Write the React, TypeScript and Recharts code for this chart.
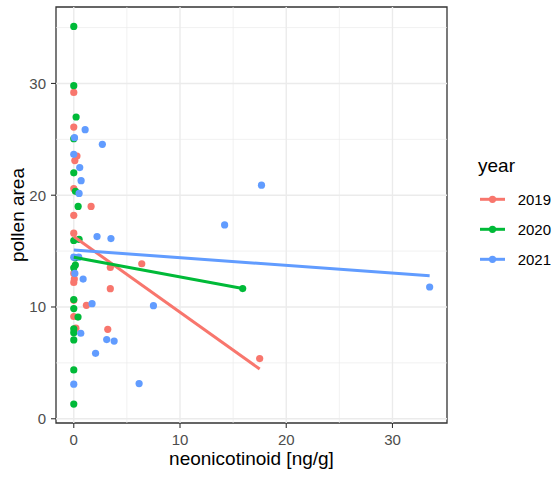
import React from 'react';
import { ScatterChart, Scatter, XAxis, YAxis, ReferenceLine, ReferenceArea } from 'recharts';

const years = ['2019', '2020', '2021'];

const points2019 = [
  { x: 0, y: 29.2 }, { x: 0, y: 26.1 }, { x: 0.3, y: 23.5 }, { x: 0.1, y: 23.1 },
  { x: 0, y: 20.6 }, { x: 1.63, y: 19.0 }, { x: 0, y: 18.2 }, { x: 0, y: 16.6 },
  { x: 3.44, y: 13.54 }, { x: 6.4, y: 13.87 }, { x: 0, y: 13.0 }, { x: 0.05, y: 12.5 },
  { x: 0, y: 12.2 }, { x: 3.44, y: 11.64 }, { x: 0, y: 10.6 }, { x: 1.19, y: 10.15 },
  { x: 0, y: 9.15 }, { x: 0.2, y: 8.1 }, { x: 3.2, y: 8.0 }, { x: 17.5, y: 5.38 },
];

const points2020 = [
  { x: 0, y: 35.1 }, { x: 0, y: 29.8 }, { x: 0.22, y: 27.0 }, { x: 0, y: 25.06 },
  { x: 0, y: 22.0 }, { x: 0.16, y: 20.35 }, { x: 0.41, y: 19.0 }, { x: 0, y: 15.95 },
  { x: 0.5, y: 16.05 }, { x: 0.15, y: 14.4 }, { x: 0.15, y: 13.75 }, { x: 0, y: 13.5 },
  { x: 0, y: 10.66 }, { x: 0, y: 9.86 }, { x: 0.4, y: 9.1 }, { x: 0, y: 8.05 },
  { x: 0, y: 7.7 }, { x: 0, y: 7.05 }, { x: 0, y: 4.37 }, { x: 0, y: 1.31 },
  { x: 15.9, y: 11.65 },
];

const points2021 = [
  { x: 1.07, y: 25.86 }, { x: 0.07, y: 25.15 }, { x: 2.69, y: 24.55 }, { x: 0, y: 23.66 },
  { x: 0.56, y: 22.47 }, { x: 0.69, y: 21.3 }, { x: 0.5, y: 20.16 }, { x: 17.67, y: 20.9 },
  { x: 14.2, y: 17.34 }, { x: 2.19, y: 16.3 }, { x: 3.5, y: 16.12 }, { x: 0, y: 14.46 },
  { x: 0.47, y: 14.46 }, { x: 0.1, y: 13.0 }, { x: 0.88, y: 12.5 }, { x: 1.72, y: 10.3 },
  { x: 7.5, y: 10.12 }, { x: 0.66, y: 7.65 }, { x: 3.1, y: 7.08 }, { x: 3.8, y: 6.95 },
  { x: 2.05, y: 5.85 }, { x: 6.15, y: 3.15 }, { x: 0, y: 3.09 }, { x: 33.5, y: 11.79 },
];

const fit2019 = [{ x: 0, y: 16.3 }, { x: 17.5, y: 4.45 }];
const fit2020 = [{ x: 0, y: 14.45 }, { x: 15.9, y: 11.65 }];
const fit2021 = [{ x: 0, y: 15.1 }, { x: 33.5, y: 12.8 }];

const xTicks = [0, 10, 20, 30];
const yTicks = [0, 10, 20, 30];
const xMinor = [5, 15, 25];
const yMinor = [5, 15, 25, 35];
const xDomain: [number, number] = [-1.673, 35.133];
const yDomain: [number, number] = [-0.38, 36.84];

const COLORS = ['#F8766D', '#00BA38', '#619CFF'];
const FONT = '"Liberation Sans", Arial, Helvetica, sans-serif';
const GRID = '#EBEBEB';

const pointSets = [points2019, points2020, points2021];
const fitSets = [fit2019, fit2020, fit2021];

const makeDot = (color: string) => (p: any) => (
  <circle cx={p.cx} cy={p.cy} r={3.6} fill={color} />
);
const noDot = () => <g />;

const YTitle = (props: any) => {
  const vb = props.viewBox || { x: 0, y: 7, width: 56, height: 416 };
  const cx = vb.x + 17.5;
  const cy = vb.y + vb.height / 2;
  return (
    <text x={cx} y={cy} transform={`rotate(-90 ${cx} ${cy})`} textAnchor="middle"
      dominantBaseline="central" fontSize={19} fill="#000" fontFamily={FONT}>
      pollen area
    </text>
  );
};

const XTitle = (props: any) => {
  const vb = props.viewBox || { x: 56, y: 423, width: 391, height: 54 };
  return (
    <text x={vb.x + vb.width / 2} y={vb.y + 41.5} textAnchor="middle" fontSize={19}
      fill="#000" fontFamily={FONT}>
      neonicotinoid [ng/g]
    </text>
  );
};

export default function App() {
  return (
    <div style={{ position: 'absolute', left: 0, top: 0, width: 556, height: 477, background: '#fff', fontFamily: FONT }}>
      <ScatterChart width={556} height={477} margin={{ top: 7, right: 109, bottom: 0, left: 0 }}>
        <XAxis type="number" dataKey="x" domain={xDomain} ticks={xTicks} allowDataOverflow
          axisLine={false} tickSize={5} tickMargin={6} height={54}
          tickLine={{ stroke: '#333333', strokeWidth: 1.1 }}
          tick={{ fill: '#4D4D4D', fontSize: 15, fontFamily: FONT }}
          label={<XTitle />} />
        <YAxis type="number" dataKey="y" domain={yDomain} ticks={yTicks} allowDataOverflow
          axisLine={false} tickSize={5} tickMargin={5} width={56}
          tickLine={{ stroke: '#333333', strokeWidth: 1.1 }}
          tick={{ fill: '#4D4D4D', fontSize: 15, fontFamily: FONT }}
          label={<YTitle />} />
        {xMinor.map((v) => (
          <ReferenceLine key={'xm' + v} x={v} stroke={GRID} strokeWidth={0.7} />
        ))}
        {yMinor.map((v) => (
          <ReferenceLine key={'ym' + v} y={v} stroke={GRID} strokeWidth={0.7} />
        ))}
        {xTicks.map((v) => (
          <ReferenceLine key={'x' + v} x={v} stroke={GRID} strokeWidth={1.4} />
        ))}
        {yTicks.map((v) => (
          <ReferenceLine key={'y' + v} y={v} stroke={GRID} strokeWidth={1.4} />
        ))}
        {pointSets.map((d, i) => (
          <Scatter key={'p' + i} name={years[i]} data={d} shape={makeDot(COLORS[i])} isAnimationActive={false} />
        ))}
        {fitSets.map((d, i) => (
          <Scatter key={'f' + i} data={d} shape={noDot} line={{ stroke: COLORS[i], strokeWidth: 3 }}
            isAnimationActive={false} />
        ))}
        <ReferenceArea x1={xDomain[0]} x2={xDomain[1]} y1={yDomain[0]} y2={yDomain[1]}
          fill="none" stroke="#333333" strokeWidth={1.3} fillOpacity={0} />
      </ScatterChart>
      <svg style={{ position: 'absolute', left: 450, top: 140 }} width={106} height={140}>
        <text x={28} y={31.5} fontSize={19} fill="#000" fontFamily={FONT}>year</text>
        {years.map((yr, i) => {
          const cy = 59.3 + i * 30;
          return (
            <g key={yr}>
              <line x1={30} x2={55} y1={cy} y2={cy} stroke={COLORS[i]} strokeWidth={3} />
              <circle cx={42.5} cy={cy} r={3.6} fill={COLORS[i]} />
              <text x={67.7} y={cy + 5.4} fontSize={15} fill="#000" fontFamily={FONT}>{yr}</text>
            </g>
          );
        })}
      </svg>
    </div>
  );
}
